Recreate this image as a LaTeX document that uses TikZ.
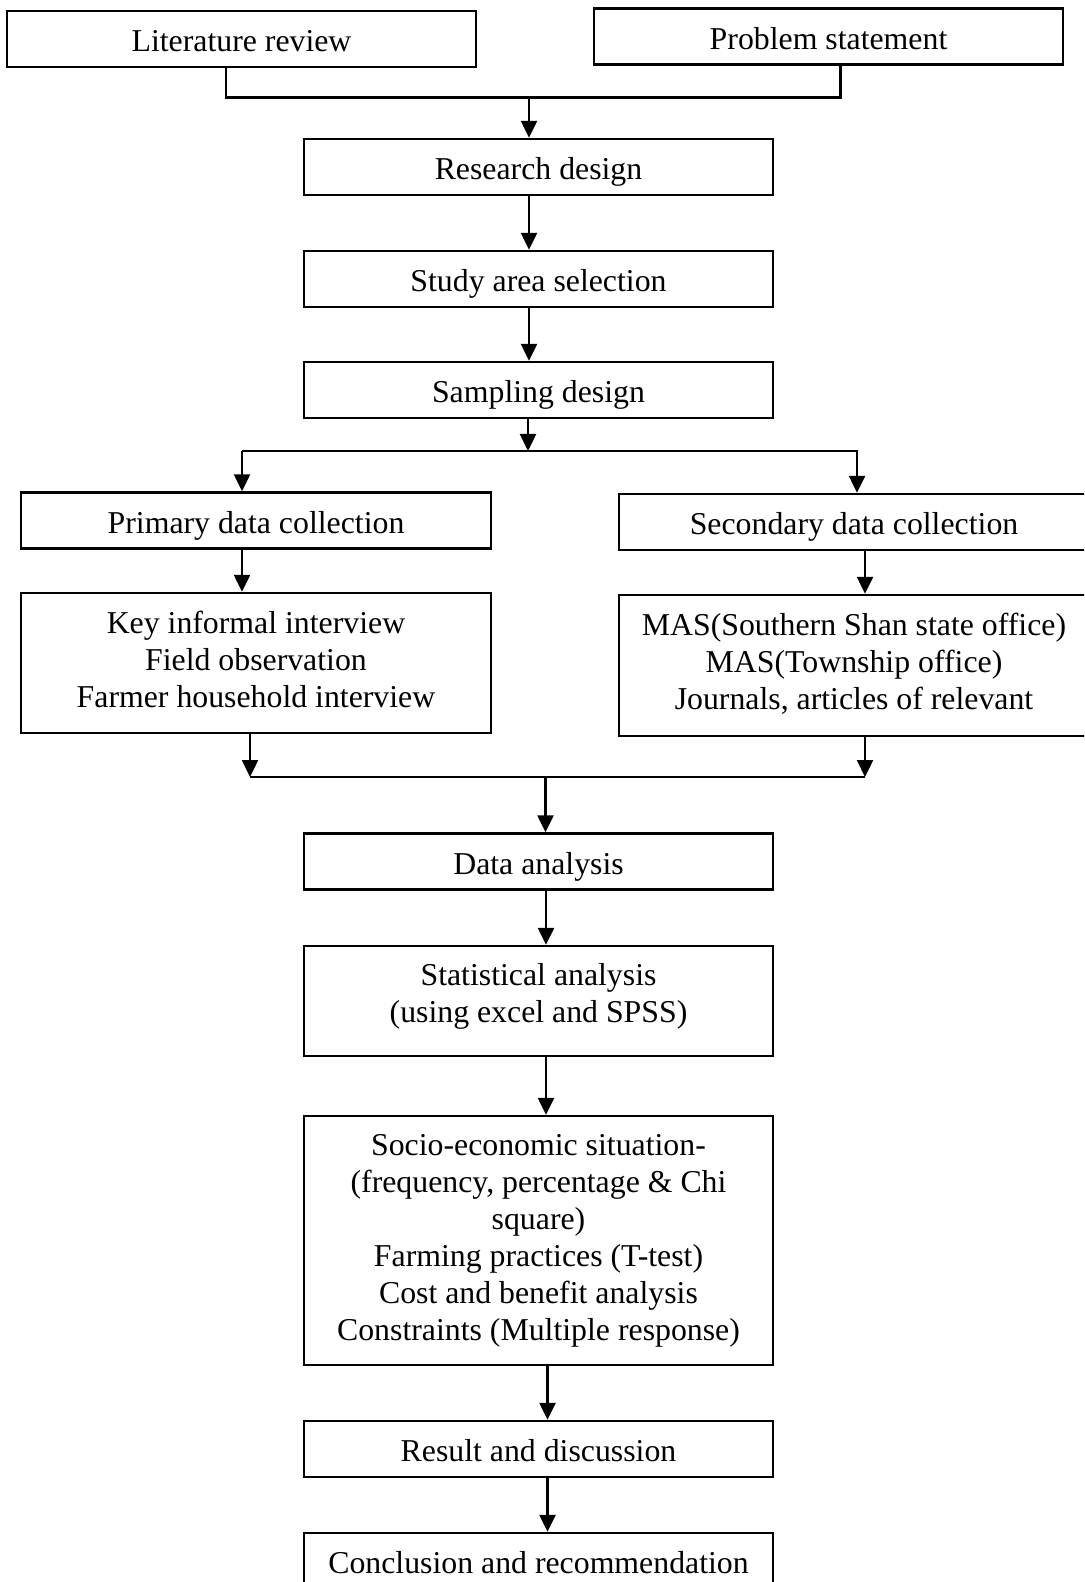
\documentclass[tikz,border=0pt]{standalone}
\usepackage{fontspec}
\setmainfont{Liberation Serif}
\usetikzlibrary{arrows.meta}
\begin{document}
\begin{tikzpicture}[x=0.5pt,y=-0.5pt,
  box/.style={draw, line width=1.2pt, inner sep=0pt, align=center,
    font=\fontsize{15.9pt}{18.5pt}\selectfont,
    minimum width=234.5pt, minimum height=28pt},
  onebox/.style={box, text height=16pt, text depth=3.3pt},
  ln/.style={line width=1.2pt},
  arr/.style={line width=1.2pt, -{Triangle[length=8.5pt,width=8pt]}}]
\clip (0,0) rectangle (1084,1582);
\fill[white] (0,0) rectangle (1084,1582);

\node[onebox] (lit) at (241.5,39) {Literature review};
\node[onebox] (prob) at (828.5,36.5) {Problem statement};
\node[onebox] (rd) at (538.5,167) {Research design};
\node[onebox] (sa) at (538.5,279) {Study area selection};
\node[onebox] (sd) at (538.5,390) {Sampling design};
\node[onebox, minimum width=235pt] (pdc) at (256,520.5) {Primary data collection};
\node[onebox, minimum width=235pt] (sdc) at (854,522) {Secondary data collection};
\node[box, minimum width=235pt, minimum height=70pt] (key) at (256,663)
  {Key informal interview\\Field observation\\Farmer household interview\rule[-4pt]{0pt}{4pt}};
\node[box, minimum width=235pt, minimum height=70.5pt] (mas) at (854,665.5)
  {MAS(Southern Shan state office)\\MAS(Township office)\\Journals, articles of relevant\rule[-4.2pt]{0pt}{4.2pt}};
\node[onebox] (da) at (538.5,861.5) {Data analysis};
\node[box, minimum height=55pt] (stat) at (538.5,1001)
  {Statistical analysis\\(using excel and SPSS)\rule[-8.5pt]{0pt}{8.5pt}};
\node[box, minimum height=124.5pt] (soc) at (538.5,1240.5)
  {Socio-economic situation-\\(frequency, percentage \& Chi\\square)\\Farming practices (T-test)\\Cost and benefit analysis\\Constraints (Multiple response)};
\node[onebox] (res) at (538.5,1449) {Result and discussion};
\node[onebox] (conc) at (538.5,1561) {Conclusion and recommendation};

% top join
\coordinate (litc) at (226,97.5);
\coordinate (probc) at (840.5,97.5);
\coordinate (topj) at (529,97.5);
\draw[ln] (lit.south -| litc) -- (litc) -- (probc) -- (prob.south -| probc);
\draw[arr] (topj) -- (topj |- rd.north);
\draw[arr] (rd.south -| topj) -- (sa.north -| topj);
\draw[arr] (sa.south -| topj) -- (sd.north -| topj);

% split
\coordinate (splm) at (528,451);
\coordinate (splL) at (242,451);
\coordinate (splR) at (858,451);
\draw[arr] (sd.south -| splm) -- (splm);
\draw[ln] (splL) -- (splR);
\draw[arr] (splL) -- (splL |- pdc.north);
\coordinate (splR2) at (857,451);
\draw[arr] (splR2) -- (splR2 |- sdc.north);
\draw[arr] (pdc.south -| splL) -- (key.north -| splL);
\coordinate (secx) at (865,551);
\draw[arr] (sdc.south -| secx) -- (mas.north -| secx);

% merge
\coordinate (mrgL) at (250,777);
\coordinate (mrgR) at (865,777);
\coordinate (mrgM) at (545.5,777);
\draw[arr] (key.south -| mrgL) -- (mrgL);
\draw[arr] (mas.south -| mrgR) -- (mrgR);
\draw[ln] (mrgL) -- (mrgR);
\draw[arr] (mrgM) -- (mrgM |- da.north);

% lower chain
\coordinate (lowx) at (546,0);
\coordinate (lowx2) at (547.5,0);
\draw[arr] (da.south -| lowx) -- (stat.north -| lowx);
\draw[arr] (stat.south -| lowx) -- (soc.north -| lowx);
\draw[arr] (soc.south -| lowx2) -- (res.north -| lowx2);
\draw[arr] (res.south -| lowx2) -- (conc.north -| lowx2);
\end{tikzpicture}
\end{document}
